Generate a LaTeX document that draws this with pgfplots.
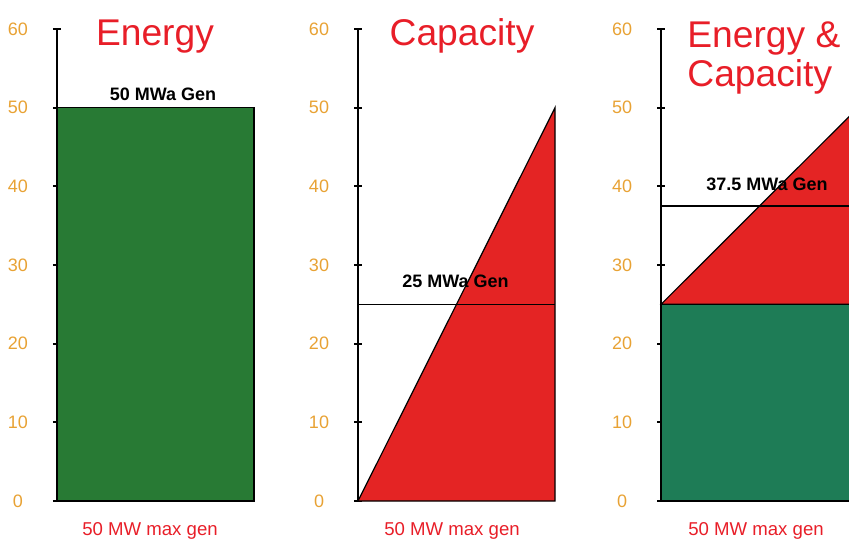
\documentclass[border=0pt]{standalone}
\usepackage{pgfplots}
\pgfplotsset{compat=1.18}
\usepackage{fontspec}
\setmainfont{Liberation Sans}

\definecolor{tickorange}{RGB}{232,162,52}
\definecolor{titlered}{RGB}{232,30,40}
\definecolor{energygreen}{RGB}{40,122,52}
\definecolor{mixgreen}{RGB}{30,124,86}
\definecolor{capred}{RGB}{228,36,36}

\pgfplotsset{
  panel/.style={
    scale only axis, width=98.5pt, height=236pt,
    anchor=south west,
    xmin=0, xmax=50, ymin=0, ymax=60,
    axis x line=none, axis y line=left,
    y axis line style={-, line width=1pt},
    ytick={0,10,...,60},
    tick align=center,
    major tick length=4pt,
    tick style={black, line width=0.9pt},
    yticklabel style={anchor=center, xshift=-17.5pt, text=tickorange,
      font=\fontsize{9}{10}\selectfont},
    /pgf/number format/assume math mode=true,
    clip=false,
  },
  edge/.style={draw=black, line width=0.6pt},
}

\begin{document}
\begin{tikzpicture}
\path[use as bounding box] (0,0) rectangle (424.5pt,271.5pt);
\clip (0,0) rectangle (424.5pt,271.5pt);

% Energy: flat 50 MW block
\begin{axis}[panel, at={(28.5pt,21pt)}]
  \addplot[edge, fill=energygreen] coordinates {(0,0) (50,0) (50,50) (0,50)} -- cycle;
\end{axis}

% Capacity: ramp from 0 to 50 MW, average 25
\begin{axis}[panel, at={(179pt,21pt)}]
  \addplot[edge, fill=capred] coordinates {(0,0) (50,0) (50,50)} -- cycle;
  \addplot[edge] coordinates {(0,25) (50,25)};
\end{axis}

% Energy & Capacity: 25 MW block plus ramp to 50, average 37.5
\begin{axis}[panel, at={(330.5pt,21pt)}]
  \addplot[edge, fill=mixgreen] coordinates {(0,0) (50,0) (50,25) (0,25)} -- cycle;
  \addplot[edge, fill=capred] coordinates {(0,25) (50,50) (50,25)} -- cycle;
  \addplot[edge] coordinates {(0,37.5) (50,37.5)};
\end{axis}

% titles
\begin{scope}[every node/.style={inner sep=0, text=titlered, font=\fontsize{18.6}{20}\selectfont}]
  \node[anchor=base] at (77.5pt,249pt) {Energy};
  \node[anchor=base] at (231pt,249pt) {Capacity};
  \node[anchor=base west] at (343.5pt,248pt) {Energy \&};
  \node[anchor=base west] at (343.5pt,228.5pt) {Capacity};
\end{scope}

% average generation labels
\begin{scope}[every node/.style={inner sep=0, anchor=base, font=\fontsize{9}{10}\selectfont\bfseries}]
  \node at (81.5pt,221.5pt) {50 MWa Gen};
  \node at (227.75pt,127.6pt) {25 MWa Gen};
  \node at (383.5pt,176.5pt) {37.5 MWa Gen};
\end{scope}

% bottom captions
\begin{scope}[every node/.style={inner sep=0, anchor=base, text=titlered, font=\fontsize{9.3}{10}\selectfont}]
  \node at (75pt,4pt) {50 MW max gen};
  \node at (226pt,4pt) {50 MW max gen};
  \node at (378pt,4pt) {50 MW max gen};
\end{scope}
\end{tikzpicture}
\end{document}
